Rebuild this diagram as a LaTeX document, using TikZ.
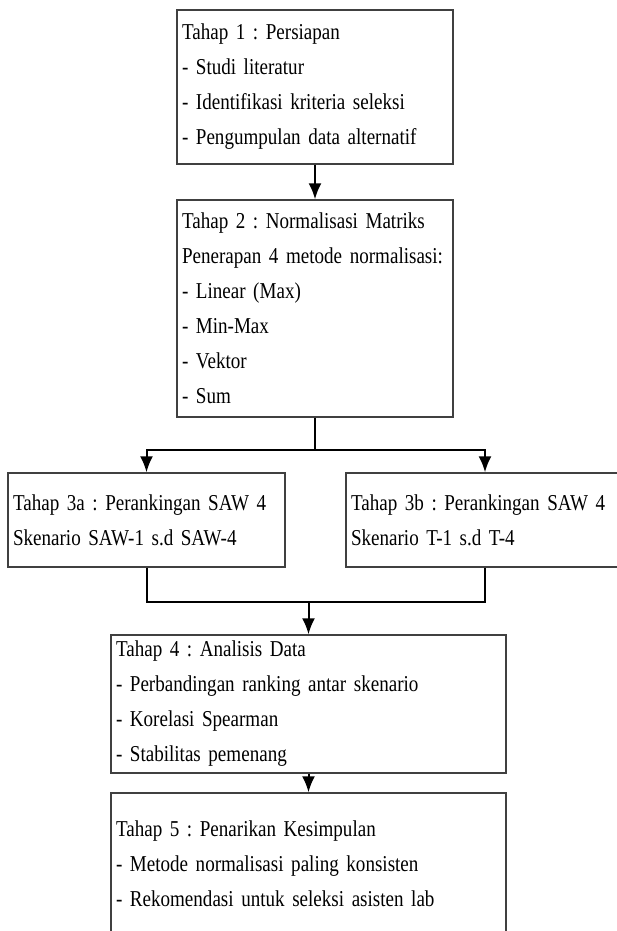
\documentclass[tikz,border=0pt]{standalone}
\usepackage{fontspec}
\setmainfont{Liberation Serif}[FakeStretch=0.84]
\usetikzlibrary{arrows.meta}
\definecolor{boxline}{RGB}{64,64,64}
\newcommand{\stagefont}{\fontsize{22.7}{35}\selectfont\frenchspacing\spaceskip=0.16em plus 0.1em minus 0.05em\relax}
\tikzset{
  stagebox/.style={draw=boxline, line width=1.4pt, fill=white, align=left,
    inner sep=5pt, font=\stagefont},
  flow/.style={line width=2pt, black}
}
\begin{document}
\begin{tikzpicture}[x=1pt, y=-1pt, >={Latex[length=16pt, width=13pt]}]
        \useasboundingbox (0,0) rectangle (617,931);

        \node [stagebox, minimum width=276pt, minimum height=154pt, text width=266pt] (s1) at (315,87)
            {Tahap 1 : Persiapan\\- Studi literatur\\- Identifikasi kriteria seleksi\\- Pengumpulan data alternatif};
        \node [stagebox, minimum width=276pt, minimum height=217pt, text width=266pt] (s2) at (315,308.5)
            {Tahap 2 : Normalisasi Matriks\\Penerapan 4 metode normalisasi:\\- Linear (Max)\\- Min-Max\\- Vektor\\- Sum};
        \node [stagebox, minimum width=277pt, minimum height=94pt, text width=267pt] (s3a) at (146.5,520)
            {Tahap 3a : Perankingan SAW 4\\Skenario SAW-1 s.d SAW-4};
        \node [stagebox, minimum width=278pt, minimum height=94pt, text width=268pt] (s3b) at (485,520)
            {Tahap 3b : Perankingan SAW 4\\Skenario T-1 s.d T-4};
        \node [stagebox, minimum width=395pt, minimum height=138pt, text width=385pt] (s4) at (308.5,704)
            {Tahap 4 : Analisis Data\\- Perbandingan ranking antar skenario\\- Korelasi Spearman\\- Stabilitas pemenang};
        \node [stagebox, minimum width=395pt, minimum height=142pt, text width=385pt] (s5) at (308.5,864)
            {Tahap 5 : Penarikan Kesimpulan\\- Metode normalisasi paling konsisten\\- Rekomendasi untuk seleksi asisten lab};

        \coordinate (split) at (315,450);
        \coordinate (merge) at (308.5,602);

        \draw [flow, ->] (s1.south) -- (s2.north);
        \draw [flow, ->] (s2.south) -- (split) -| (s3a.north);
        \draw [flow, ->] (split) -| (s3b.north);
        \draw [flow] (s3a.south) |- (merge) -| (s3b.south);
        \draw [flow, ->] (merge) -- (s4.north);
        \draw [flow, ->] (s4.south) -- (s5.north);
    \end{tikzpicture}
\end{document}
